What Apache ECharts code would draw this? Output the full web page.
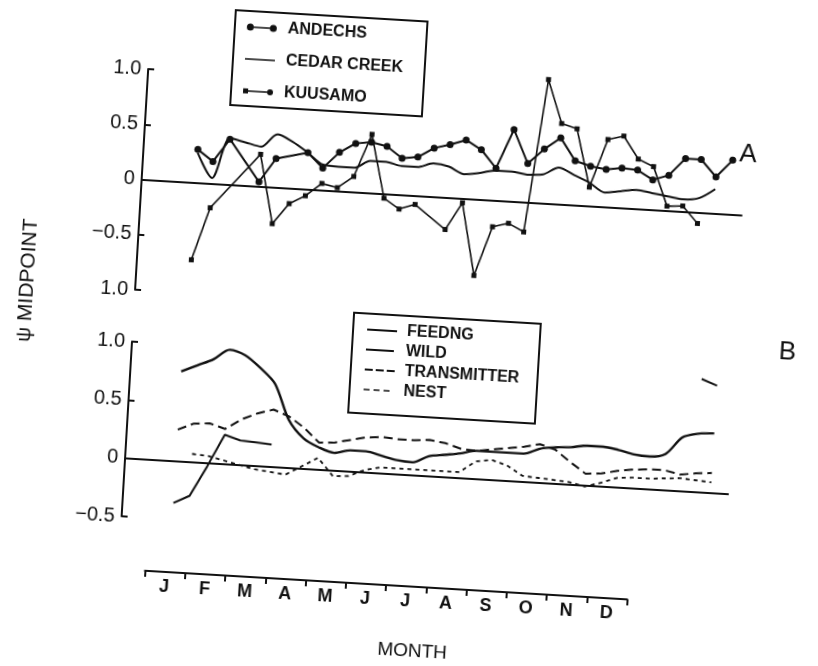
<!DOCTYPE html>
<html>
<head>
<meta charset="utf-8">
<script src="https://cdn.jsdelivr.net/npm/echarts@6/dist/echarts.min.js"></script>
<style>
html,body{margin:0;padding:0;background:#fff;overflow:hidden;}
#chart{width:818px;height:666px;transform:rotate(3.4deg);transform-origin:409px 333px;}
</style>
</head>
<body>
<div id="chart"></div>
<script>
// ten-day periods through the year (index)
const periods = [0,1,2,3,4,5,6,7,8,9,10,11,12,13,14,15,16,17,18,19,20,21,22,23,24,25,26,27,28,29,30,31,32,33,34];
const months = ['J','F','M','A','M','J','J','A','S','O','N','D'];

// Panel A
const andechs    = [0.30,0.20,0.41,null,0.04,0.26,null,0.33,0.20,0.35,0.44,0.46,0.43,0.33,0.35,0.44,0.48,0.53,0.45,0.29,0.65,0.35,0.49,0.60,0.40,0.36,0.34,0.36,0.35,0.27,0.32,0.48,0.48,0.33,0.49];
const cedarCreek = [0.27,0.05,0.42,0.39,0.36,0.48,0.42,0.33,0.23,0.22,0.22,0.29,0.29,0.26,0.26,0.30,0.28,0.22,0.24,0.27,0.27,0.25,0.26,0.33,0.27,0.21,0.13,0.15,0.17,0.15,0.13,0.11,0.13,0.22,null];
const kuusamo    = [-0.70,-0.22,null,null,0.29,-0.33,-0.14,-0.06,0.06,0.03,0.14,0.53,-0.04,-0.13,-0.08,null,-0.29,-0.04,-0.69,-0.24,-0.20,-0.27,1.12,0.73,0.69,0.17,0.61,0.65,0.45,0.39,0.04,0.05,-0.10,null,null];

// Panel B
const feeding     = [0.77,0.83,0.89,0.98,0.94,0.84,0.71,0.41,0.26,0.19,0.15,0.18,0.18,0.15,0.12,0.11,0.17,0.19,0.21,0.24,0.24,0.24,0.24,0.29,0.31,0.32,0.34,0.34,0.32,0.29,0.28,0.31,0.46,0.50,0.51];
const wild        = [-0.36,-0.29,-0.03,0.25,0.21,0.20,0.19,null,null,null,null,null,null,null,null,null,null,null,null,null,null,null,null,null,null,null,null,null,null,null,null,null,null,0.97,0.92];
const transmitter = [0.27,0.33,0.34,0.30,0.39,0.45,0.49,0.44,0.35,0.23,0.24,0.27,0.30,0.31,0.30,0.30,0.31,0.29,0.25,0.24,0.26,0.28,0.30,0.33,0.29,0.19,0.10,0.11,0.14,0.16,0.17,0.17,0.14,0.16,0.17];
const nest        = [null,0.07,0.06,null,null,-0.03,null,-0.06,0.02,0.10,-0.05,-0.04,0.02,0.05,0.05,0.05,0.05,0.05,0.05,0.15,0.17,0.13,0.05,0.04,0.03,0.02,-0.01,0.03,0.08,0.09,0.09,0.10,0.11,0.10,0.09];

// tick labels
const yTicksA = [-1, -0.5, 0, 0.5, 1];
const yTickLabelsA = ['1.0', '\u22120.5', '0', '0.5', '1.0'];
const yTicksB = [-0.5, 0, 0.5, 1];
const yTickLabelsB = ['\u22120.5', '0', '0.5', '1.0'];

const INK = '#111';
const FONT = 'Liberation Sans';

function pairs(arr, keepGaps) {
  const out = periods.map((p, i) => [p, arr[i] === null ? '-' : arr[i]]);
  return keepGaps ? out : out.filter(d => d[1] !== '-');
}
function tickFmt(ticks, labels) {
  return function (v) {
    for (let i = 0; i < ticks.length; i++) if (Math.abs(ticks[i] - v) < 1e-6) return labels[i];
    return '';
  };
}

const anchorsA = 'M0,0.5L0.01,0.5L0,0.51ZM30,7.5L29.99,7.5L30,7.49Z';
const anchorsB = 'M0,0L0.01,0L0,0.01ZM30,6L29.99,6L30,5.99Z';
const icons = {
  'ANDECHS': 'path://' + anchorsA + 'M0,4A3.5,3.5,0,1,0,7,4A3.5,3.5,0,1,0,0,4ZM7,3.2L23,3.2L23,4.8L7,4.8ZM23,4A3.5,3.5,0,1,0,30,4A3.5,3.5,0,1,0,23,4Z',
  'CEDAR CREEK': 'path://' + anchorsA + 'M0,3.2L30,3.2L30,4.8L0,4.8Z',
  'KUUSAMO': 'path://' + anchorsA + 'M0,1.5L5,1.5L5,6.5L0,6.5ZM5,3.2L24,3.2L24,4.8L5,4.8ZM24,4A3,3,0,1,0,30,4A3,3,0,1,0,24,4Z',
  'FEEDNG': 'path://' + anchorsB + 'M0,1.9L30,1.9L30,4.1L0,4.1Z',
  'WILD': 'path://' + anchorsB + 'M0,2.1L28,2.1L28,3.9L0,3.9Z',
  'TRANSMITTER': 'path://' + anchorsB + 'M0,2L8,2L8,4L0,4ZM11,2L19,2L19,4L11,4ZM22,2L30,2L30,4L22,4Z',
  'NEST': 'path://' + anchorsB + 'M0,2.2L6,2.2L6,3.8L0,3.8ZM10,2.2L16,2.2L16,3.8L10,3.8ZM20,2.2L26,2.2L26,3.8L20,3.8Z'
};

const hiddenX = (grid, min, max) => ({
  gridIndex: grid, type: 'value', min: min, max: max,
  axisLine: { show: true, onZero: true, lineStyle: { color: INK, width: 2 } },
  axisTick: { show: false }, axisLabel: { show: false }, splitLine: { show: false }
});
const yAx = (grid, min, max, ticks, labels) => ({
  gridIndex: grid, type: 'value', min: min, max: max, interval: 0.5,
  axisLine: { show: true, onZero: false, lineStyle: { color: INK, width: 2 } },
  axisTick: { show: true, inside: true, length: 6, lineStyle: { color: INK, width: 2 } },
  axisLabel: { formatter: tickFmt(ticks, labels), margin: 7, fontSize: 20, color: INK, fontFamily: FONT },
  splitLine: { show: false }
});

const chart = echarts.init(document.getElementById('chart'), null, { renderer: 'canvas' });
chart.setOption({
  backgroundColor: '#fff',
  animation: false,
  grid: [
    { left: 133, top: 85, width: 601, height: 221 },
    { left: 133, top: 358, width: 604, height: 175 },
    { left: 159.5, top: 585, width: 483, height: 1 }
  ],
  xAxis: [
    hiddenX(0, -3.46, 34.77),
    hiddenX(1, -3.23, 35.1),
    {
      gridIndex: 2, type: 'category', data: months, boundaryGap: true, position: 'bottom',
      axisLine: { show: true, lineStyle: { color: INK, width: 2 } },
      axisTick: { show: true, inside: false, length: 6, lineStyle: { color: INK, width: 2 } },
      axisLabel: { interval: 0, margin: 6, fontSize: 18, fontWeight: 'bold', color: INK, fontFamily: FONT },
      splitLine: { show: false }
    }
  ],
  yAxis: [
    yAx(0, -1, 1, yTicksA, yTickLabelsA),
    yAx(1, -0.5, 1, yTicksB, yTickLabelsB),
    { gridIndex: 2, type: 'value', show: false }
  ],
  legend: [
    {
      data: ['ANDECHS', 'CEDAR CREEK', 'KUUSAMO'].map(n => ({ name: n, icon: icons[n] })),
      orient: 'vertical', left: 229, top: 28, padding: 0,
      itemWidth: 30, itemHeight: 7, itemGap: 14, symbolKeepAspect: true, selectedMode: false,
      itemStyle: { borderWidth: 0 },
      textStyle: { fontSize: 16, fontWeight: 'bold', lineHeight: 18, color: INK, fontFamily: FONT, padding: [0, 0, 0, 6] }
    },
    {
      data: ['FEEDNG', 'WILD', 'TRANSMITTER', 'NEST'].map(n => ({ name: n, icon: icons[n] })),
      orient: 'vertical', left: 367, top: 323, padding: 0,
      itemWidth: 30, itemHeight: 6, itemGap: 2, symbolKeepAspect: true, selectedMode: false,
      itemStyle: { borderWidth: 0 },
      textStyle: { fontSize: 16, fontWeight: 'bold', lineHeight: 18, color: INK, fontFamily: FONT, padding: [0, 0, 0, 5] }
    }
  ],
  graphic: [
    { type: 'rect', shape: { x: 217, y: 21, width: 192, height: 95 }, style: { fill: 'none', stroke: INK, lineWidth: 2 } },
    { type: 'rect', shape: { x: 353, y: 316, width: 187, height: 100 }, style: { fill: 'none', stroke: INK, lineWidth: 2 } },
    { type: 'text', x: 737, y: 135, style: { text: 'A', fontSize: 26, fontFamily: FONT, fill: INK, align: 'center', verticalAlign: 'middle' } },
    { type: 'text', x: 788, y: 330, style: { text: 'B', fontSize: 26, fontFamily: FONT, fill: INK, align: 'center', verticalAlign: 'middle' } },
    { type: 'text', x: 431, y: 651, style: { text: 'MONTH', fontSize: 19, fontFamily: FONT, fill: INK, align: 'center', verticalAlign: 'middle' } },
    { type: 'text', x: 25, y: 303, rotation: Math.PI / 2, style: { text: '\u03C8 MIDPOINT', fontSize: 21, fontFamily: FONT, fill: INK, align: 'center', verticalAlign: 'middle' } }
  ],
  series: [
    { name: 'ANDECHS', type: 'line', xAxisIndex: 0, yAxisIndex: 0, data: pairs(andechs, false), clip: false,
      symbol: 'circle', symbolSize: 7, color: INK, itemStyle: { color: INK }, lineStyle: { color: INK, width: 2 } },
    { name: 'CEDAR CREEK', type: 'line', xAxisIndex: 0, yAxisIndex: 0, data: pairs(cedarCreek, false), clip: false,
      symbol: 'none', smooth: 0.3, color: INK, itemStyle: { color: INK }, lineStyle: { color: INK, width: 2 } },
    { name: 'KUUSAMO', type: 'line', xAxisIndex: 0, yAxisIndex: 0, data: pairs(kuusamo, false), clip: false,
      symbol: 'rect', symbolSize: 5, color: INK, itemStyle: { color: INK }, lineStyle: { color: INK, width: 1.6 } },
    { name: 'FEEDNG', type: 'line', xAxisIndex: 1, yAxisIndex: 1, data: pairs(feeding, false), clip: false,
      symbol: 'none', smooth: 0.3, color: INK, itemStyle: { color: INK }, lineStyle: { color: INK, width: 2.4 } },
    { name: 'WILD', type: 'line', xAxisIndex: 1, yAxisIndex: 1, data: pairs(wild, true), connectNulls: false, clip: false,
      symbol: 'none', color: INK, itemStyle: { color: INK }, lineStyle: { color: INK, width: 2 } },
    { name: 'TRANSMITTER', type: 'line', xAxisIndex: 1, yAxisIndex: 1, data: pairs(transmitter, false), clip: false,
      symbol: 'none', color: INK, itemStyle: { color: INK }, lineStyle: { color: INK, width: 2, type: [9, 5] } },
    { name: 'NEST', type: 'line', xAxisIndex: 1, yAxisIndex: 1, data: pairs(nest, false), clip: false,
      symbol: 'none', color: INK, itemStyle: { color: INK }, lineStyle: { color: INK, width: 1.8, type: [4, 4] } }
  ]
});
</script>
</body>
</html>
